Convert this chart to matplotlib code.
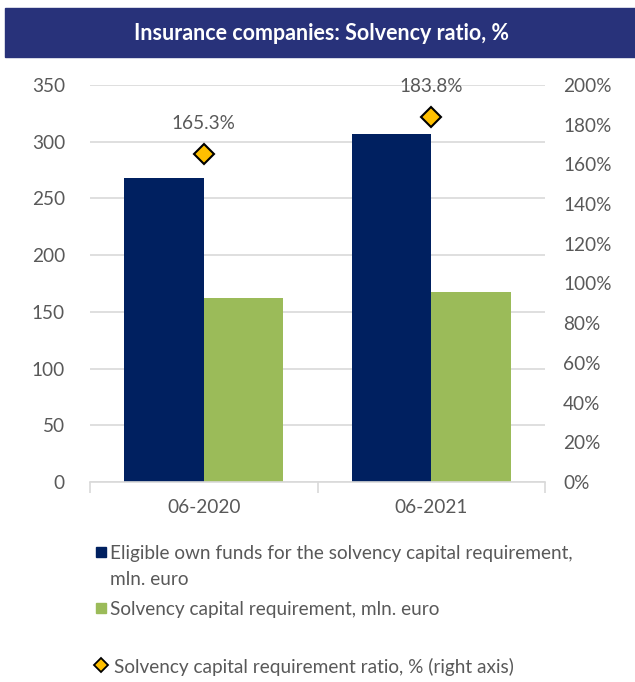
import matplotlib
matplotlib.use("Agg")
import matplotlib.pyplot as plt
from matplotlib.patches import Rectangle
from matplotlib.lines import Line2D
import numpy as np

plt.rcParams['font.family'] = ['Lato', 'DejaVu Sans']

# data
periods = ["06-2020", "06-2021"]
own_funds = [267.8, 307.2]        # mln. euro
scr = [162.0, 167.1]              # mln. euro
scr_ratio = [165.3, 183.8]        # %

navy = "#002060"
green = "#9BBB59"
gold = "#FFC000"
grey_txt = "#595959"
grid_col = "#D9D9D9"
fs = 13.7

W, H = 635, 682
fig = plt.figure(figsize=(W / 100, H / 100), dpi=100)


def fx(px):
    return px / W


def fy(py):
    return 1 - py / H


# title banner
fig.patches.append(Rectangle((fx(5), fy(57)), fx(630), 49 / H,
                             transform=fig.transFigure, color="#28327A", zorder=0))
fig.text(fx(321), fy(33), "Insurance companies: Solvency ratio, %",
         ha="center", va="center", color="white", fontsize=15.5, fontweight="bold")

ax = fig.add_axes([fx(90), fy(482), fx(455), 397 / H])
x = np.arange(len(periods))
bw = 0.35
ax.bar(x - bw / 2, own_funds, bw, color=navy, zorder=2)
ax.bar(x + bw / 2, scr, bw, color=green, zorder=2)

ax.set_xlim(-0.5, 1.5)
ax.set_ylim(0, 350)
ax.set_yticks(range(0, 351, 50))
ax.grid(axis="y", color=grid_col, lw=1.2, zorder=0)
ax.set_xticks(x)
ax.set_xticklabels(periods)
ax.set_xticks([-0.5, 0.5, 1.5], minor=True)
ax.tick_params(axis="x", which="major", length=0, pad=12)
ax.tick_params(axis="x", which="minor", length=8, color=grid_col, width=1.2)
ax.tick_params(axis="y", length=0, pad=18)
ax.tick_params(labelsize=fs, labelcolor=grey_txt)
for s in ["top", "left", "right"]:
    ax.spines[s].set_visible(False)
ax.spines["bottom"].set_color(grid_col)
ax.spines["bottom"].set_linewidth(1.2)

ax2 = ax.twinx()
ax2.set_ylim(0, 200)
ax2.set_yticks(range(0, 201, 20))
ax2.set_yticklabels([f"{v}%" for v in range(0, 201, 20)])
ax2.tick_params(axis="y", length=0, pad=13, labelsize=fs, labelcolor=grey_txt)
for s in ax2.spines.values():
    s.set_visible(False)
ax2.plot(x, scr_ratio, ls="none", marker="D", ms=10, mfc=gold,
         mec="black", mew=1.5, zorder=3)
for xi, v in zip(x, scr_ratio):
    ax2.annotate(f"{v:.1f}%", (xi, v), xytext=(0, 16), textcoords="offset points",
                 ha="center", va="bottom", fontsize=fs, color=grey_txt)

# legend, laid out by hand
legend_rows = [
    ("square", navy, "Eligible own funds for the solvency capital requirement,", 552),
    (None, None, "mln. euro", 578),
    ("square", green, "Solvency capital requirement, mln. euro", 608),
    ("diamond", gold, "Solvency capital requirement ratio, % (right axis)", 665),
]
for kind, col, label, ypx in legend_rows:
    tx = 110
    if kind == "square":
        fig.patches.append(Rectangle((fx(96), fy(ypx + 5)), fx(10), 10 / H,
                                     transform=fig.transFigure, color=col))
    elif kind == "diamond":
        fig.lines.append(Line2D([fx(101)], [fy(ypx)], transform=fig.transFigure,
                                marker="D", ms=7, mfc=col, mec="black", mew=1.3))
        tx = 114
    fig.text(fx(tx), fy(ypx), label, ha="left", va="center_baseline",
             fontsize=fs, color=grey_txt)

fig.savefig("out.png", dpi=100)
